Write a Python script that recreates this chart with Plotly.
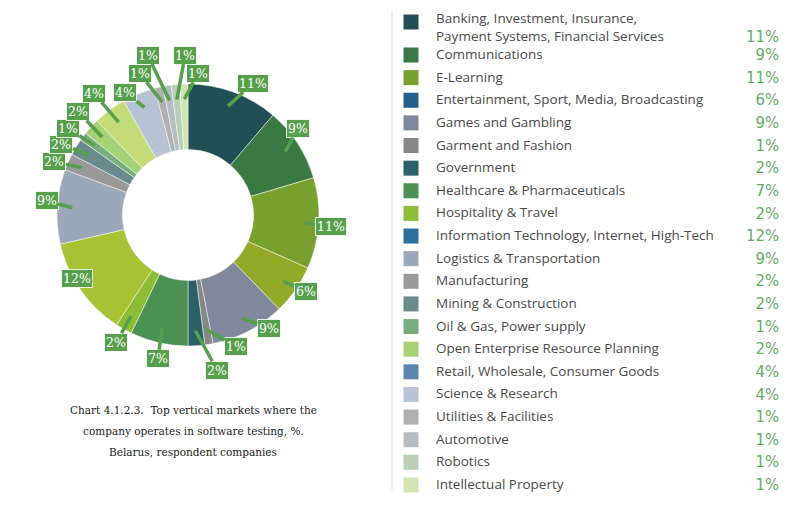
import math
import plotly.graph_objects as go

# ---------------- data ----------------
categories = [
    "Banking, Investment, Insurance, Payment Systems, Financial Services",
    "Communications",
    "E-Learning",
    "Entertainment, Sport, Media, Broadcasting",
    "Games and Gambling",
    "Garment and Fashion",
    "Government",
    "Healthcare & Pharmaceuticals",
    "Hospitality & Travel",
    "Information Technology, Internet, High-Tech",
    "Logistics & Transportation",
    "Manufacturing",
    "Mining & Construction",
    "Oil & Gas, Power supply",
    "Open Enterprise Resource Planning",
    "Retail, Wholesale, Consumer Goods",
    "Science & Research",
    "Utilities & Facilities",
    "Automotive",
    "Robotics",
    "Intellectual Property",
]
legend_labels = [
    "Banking, Investment, Insurance,<br>Payment Systems, Financial Services",
] + categories[1:]
values = [11, 9, 11, 6, 9, 1, 2, 7, 2, 12, 9, 2, 2, 1, 2, 4, 4, 1, 1, 1, 1]

pie_colors = [
    "#224f56", "#3a7944", "#78a02e", "#93a92a", "#7f899b", "#878787", "#2a6066",
    "#4a9153", "#8dbc37", "#a7c335", "#9aa8b8", "#999999", "#6a8b8b", "#79ad7f",
    "#a6d176", "#c4db79", "#b7c3d3", "#b0b0b0", "#b3bdc3", "#b8cfb8", "#d3e5b4",
]
legend_colors = list(pie_colors)
legend_colors[3] = "#245e8b"
legend_colors[9] = "#2b6d9d"
legend_colors[15] = "#5c86b0"

caption_lines = [
    "Chart 4.1.2.3.  Top vertical markets where the",
    "company operates in software testing, %.",
    "Belarus, respondent companies",
]

# ---------------- layout params ----------------
W, H = 800, 506
CX, CY, R = 188, 215, 131
TIP_R = 116
label_r = [147, 140, 143, 140, 139, 140, 158, 147, 146, 128, 142,
           144, 145, 148, 151, 154, 138, 150, 165, 160, 142]
label_da = [6, -5, 1, -2, -8, -11, -7, -1, 0, 5, 2,
            -2, -2, -1, 1, -1, -5, -6, -5, 4.5, 6]

LABEL_GREEN = "#56a04b"
PCT_GREEN = "#5fae5f"

fig = go.Figure()

fig.add_trace(go.Pie(
    values=values, labels=categories, sort=False, direction="clockwise",
    rotation=0, hole=0.5, textinfo="none", showlegend=False,
    marker=dict(colors=pie_colors, line=dict(color="rgba(255,255,255,0.6)", width=0.8)),
    domain=dict(x=[(CX - R) / W, (CX + R) / W], y=[1 - (CY + R) / H, 1 - (CY - R) / H]),
))

annotations = []
total = sum(values)
cum = 0
for i, v in enumerate(values):
    mid = (cum + v / 2) / total * 360
    cum += v
    t = math.radians(mid)
    tx, ty = CX + TIP_R * math.sin(t), CY - TIP_R * math.cos(t)
    b = math.radians(mid + label_da[i])
    bx, by = CX + label_r[i] * math.sin(b), CY - label_r[i] * math.cos(b)
    annotations.append(dict(
        x=tx / W, y=1 - ty / H, xref="paper", yref="paper",
        ax=bx - tx, ay=by - ty, axref="pixel", ayref="pixel",
        text=f"{v}%", showarrow=True, arrowhead=0, arrowwidth=3.5,
        arrowcolor=LABEL_GREEN, standoff=0,
        bgcolor=LABEL_GREEN, bordercolor="rgba(255,255,255,0.85)", borderwidth=1,
        borderpad=1,
        font=dict(family="DejaVu Serif", size=12.5, color="white"),
    ))

# legend rows
row_y = [26.5] + [54 + 22.63 * (i - 1) for i in range(1, len(categories))]
sq_y = [22] + [y + 1 for y in row_y[1:]]
pct_y = [38] + [y + 2 for y in row_y[1:]]

fig.add_trace(go.Scatter(
    x=[411] * len(categories), y=sq_y, mode="markers", showlegend=False,
    hoverinfo="skip",
    marker=dict(symbol="square", size=15, color=legend_colors, line=dict(width=0)),
    xaxis="x", yaxis="y",
))

fig.add_trace(go.Scatter(
    x=[779] * len(categories), y=pct_y, mode="text", showlegend=False,
    hoverinfo="skip", text=[f"{v}%" for v in values], textposition="middle left",
    textfont=dict(family="DejaVu Sans Condensed, sans-serif", size=16.5, color=PCT_GREEN),
    xaxis="x", yaxis="y",
))

for i, lab in enumerate(legend_labels):
    annotations.append(dict(
        x=434, y=row_y[i], xref="x", yref="y", text=lab, showarrow=False,
        xanchor="left", yanchor="middle", align="left",
        font=dict(family="Open Sans", size=13.5, color="#4a4a4a"),
    ))

cap_y = [410, 431, 452]
for line, y in zip(caption_lines, cap_y):
    annotations.append(dict(
        x=193, y=y, xref="x", yref="y", text=line, showarrow=False,
        xanchor="center", yanchor="middle",
        font=dict(family="DejaVu Serif", size=10.5, color="#222222"),
    ))

fig.update_layout(
    width=W, height=H, margin=dict(l=0, r=0, t=0, b=0),
    paper_bgcolor="white", plot_bgcolor="rgba(0,0,0,0)",
    xaxis=dict(range=[0, W], visible=False, domain=[0, 1], fixedrange=True),
    yaxis=dict(range=[H, 0], visible=False, domain=[0, 1], fixedrange=True),
    annotations=annotations,
    shapes=[dict(type="line", xref="x", yref="y", x0=392, x1=392, y0=10, y1=490,
                 line=dict(color="#dcdcdc", width=1))],
)

fig.write_html(
    "out.html",
    config={"displayModeBar": False},
    post_script="document.body.style.margin='0';document.body.style.padding='0';",
)
